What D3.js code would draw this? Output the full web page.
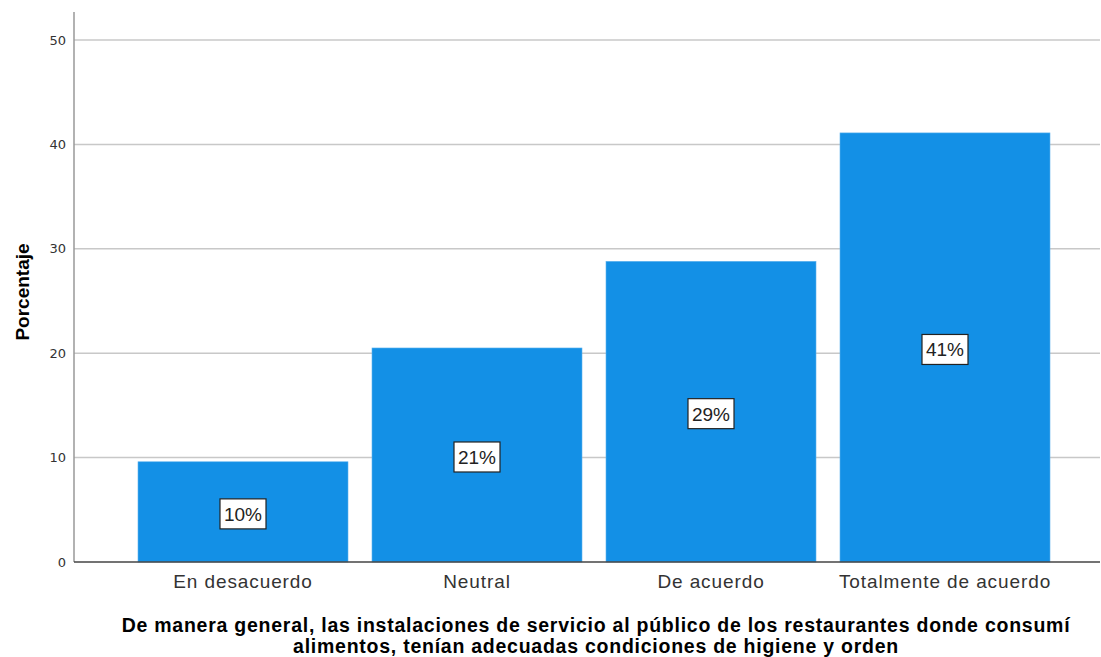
<!DOCTYPE html>
<html><head><meta charset="utf-8">
<script src="https://cdn.jsdelivr.net/npm/d3@7"></script>
<style>body{margin:0;background:#fff}svg{display:block;font-family:"Liberation Sans",Arial,sans-serif}</style>
</head><body><svg id="c" width="1101" height="657"></svg>
<script>
const categories = ["En desacuerdo","Neutral","De acuerdo","Totalmente de acuerdo"];
const values = [9.6, 20.5, 28.8, 41.1];
const labels = ["10%","21%","29%","41%"];
const yTicks = [0,10,20,30,40,50];
const yTitle = "Porcentaje";
const xTitle = ["De manera general, las instalaciones de servicio al público de los restaurantes donde consumí","alimentos, tenían adecuadas condiciones de higiene y orden"];

const svg = d3.select("#c");
const pLeft = 74, pRight = 1100, pTop = 12, pBottom = 562;
const y = d3.scaleLinear().domain([0,50]).range([pBottom, 40]);
const x = d3.scaleBand().domain(categories).range([126,1062]).paddingInner(24/234).paddingOuter(12/234);

// gridlines
svg.append("g").selectAll("line").data(yTicks.filter(d=>d>0)).join("line")
  .attr("x1",pLeft).attr("x2",pRight).attr("y1",d=>y(d)).attr("y2",d=>y(d))
  .attr("stroke","#c8c8c8").attr("stroke-width",1.5);

// bars
svg.append("g").selectAll("rect").data(values).join("rect")
  .attr("x",(d,i)=>x(categories[i])).attr("width",x.bandwidth())
  .attr("y",d=>y(d)).attr("height",d=>pBottom-y(d))
  .attr("fill","#1390e6").attr("stroke","#5fb3ee").attr("stroke-width",0.6);

// axes
const yAxis = d3.axisLeft(y).tickValues(yTicks).tickSize(0).tickPadding(8);
const gy = svg.append("g").attr("transform",`translate(${pLeft},0)`).call(yAxis);
gy.select(".domain").remove();
gy.selectAll("text").attr("font-size",13).attr("fill","#333").attr("font-family","DejaVu Sans, sans-serif");
svg.append("line").attr("x1",pLeft).attr("x2",pLeft).attr("y1",pTop).attr("y2",pBottom)
  .attr("stroke","#999").attr("stroke-width",1.5);
svg.append("line").attr("x1",pLeft).attr("x2",pRight).attr("y1",pBottom).attr("y2",pBottom)
  .attr("stroke","#444").attr("stroke-width",1.5);

const xAxis = d3.axisBottom(x).tickSize(0).tickPadding(13);
const gx = svg.append("g").attr("transform",`translate(0,${pBottom})`).call(xAxis);
gx.select(".domain").remove();
gx.selectAll("text").attr("font-size",19).attr("letter-spacing","0.9px").attr("fill","#333");

// value labels
const lg = svg.append("g").selectAll("g").data(values).join("g")
  .attr("transform",(d,i)=>`translate(${x(categories[i])+x.bandwidth()/2},${y(d/2)+2})`);
lg.append("rect").attr("x",-23).attr("y",-15).attr("width",46).attr("height",30)
  .attr("fill","#fff").attr("stroke","#222").attr("stroke-width",1.2);
lg.append("text").text((d,i)=>labels[i]).attr("text-anchor","middle").attr("dy","0.36em")
  .attr("font-size",19).attr("fill","#222");

// titles
svg.append("text").attr("transform","translate(29,292) rotate(-90)").attr("text-anchor","middle")
  .attr("font-size",19).attr("font-weight","bold").attr("fill","#000").text(yTitle);
svg.append("text").attr("text-anchor","middle").attr("font-size",19.5).attr("letter-spacing","0.75px")
  .attr("font-weight","bold").attr("fill","#000")
  .selectAll("tspan").data(xTitle).join("tspan").attr("x",596).attr("y",(d,i)=>632+i*21).text(d=>d);
</script></body></html>
